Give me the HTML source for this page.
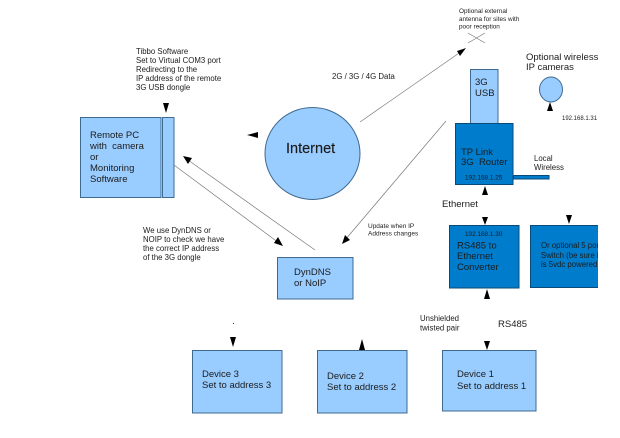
<!DOCTYPE html>
<html><head><meta charset="utf-8"><style>
html,body{margin:0;padding:0;background:#fff;width:620px;height:438px;overflow:hidden}
svg{display:block}
text{font-family:"Liberation Sans",sans-serif;fill:#1c1c1c}
.s{font-size:7.8px}
.m{font-size:9.5px}
.r{fill:#99ccff;stroke:#3f6a8f;stroke-width:1}
.d{fill:#007ccc;stroke:#0a4a78;stroke-width:1}
.l{stroke:#777;stroke-width:.7;fill:none}
.a{fill:#000}
</style></head><body>
<svg width="620" height="438" viewBox="0 0 620 438" xmlns="http://www.w3.org/2000/svg">
<defs><clipPath id="c"><rect x="530" y="225" width="68" height="63"/></clipPath></defs>
<rect width="620" height="438" fill="#fff"/>
<rect class="r" x="80.5" y="117.5" width="80.5" height="80"/>
<rect class="r" x="162.5" y="117.5" width="11.5" height="80"/>
<ellipse class="r" cx="312.5" cy="153.5" rx="47.5" ry="46"/>
<rect class="r" x="470.5" y="69.5" width="27.5" height="54"/>
<rect class="d" x="455.5" y="123.5" width="57.5" height="61"/>
<rect class="d" x="513.5" y="175.5" width="35.5" height="3.5"/>
<rect class="d" x="449.5" y="225.5" width="69.5" height="62.5"/>
<rect x="530" y="225" width="68" height="63" fill="#007ccc"/>
<path d="M598 225.5H530.5V287.5H598" fill="none" stroke="#0a4a78"/>
<rect class="r" x="277.5" y="257.5" width="75.5" height="41.5"/>
<rect class="r" x="192.5" y="350.5" width="89.5" height="62.5"/>
<rect class="r" x="317.5" y="350.5" width="89.5" height="62.5"/>
<rect class="r" x="442.5" y="350.5" width="93.5" height="60.5"/>
<ellipse class="r" cx="551" cy="89.5" rx="11.5" ry="12.5"/>

<path class="l" d="M360 122L462 51M446 121L345 240M188 160L315 250M174 165L279 243M468 43L485 33M468 33L485 43"/>
<path class="a" d="M466 48L457 51L460 56ZM342 244L345 235L350 240ZM183 156L192 158L188 164ZM283 246L274 243L278 237ZM247 135L258 132V138ZM166 113L163 103H169ZM485 186L482 195H488ZM485 225L482 217H488ZM569 224L566 215H572ZM487 289L484 299H490ZM233 347L230 337H236ZM362 339L359 350H365L362 339ZM487 350L484 341H490ZM550 102L547 111H553Z"/>
<rect x="233" y="323" width="1" height="1" fill="#333"/>

<g style="filter:blur(.3px)">
<text class="m" x="90" y="138">Remote PC</text>
<text class="m" x="90" y="149">with&#160; camera</text>
<text class="m" x="90" y="160">or</text>
<text class="m" x="90" y="171">Monitoring</text>
<text class="m" x="90" y="182">Software</text>

<text class="s" x="136" y="54">Tibbo Software</text>
<text class="s" x="136" y="63">Set to Virtual COM3 port</text>
<text class="s" x="136" y="72">Redirecting to the</text>
<text class="s" x="136" y="81">IP address of the remote</text>
<text class="s" x="136" y="90">3G USB dongle</text>

<text class="s" x="143" y="233">We use DynDNS or</text>
<text class="s" x="143" y="242">NOIP to check we have</text>
<text class="s" x="143" y="251">the correct IP address</text>
<text class="s" x="143" y="260">of the 3G dongle</text>

<text class="s" x="332" y="79">2G / 3G / 4G Data</text>
<text x="286" y="153" style="font-size:14.5px;stroke:#1c1c1c;stroke-width:.15">Internet</text>
<text x="368" y="228" style="font-size:6.5px">Update when IP</text>
<text x="368" y="235.5" style="font-size:6.5px">Address changes</text>

<text x="459" y="13" style="font-size:6.4px">Optional external</text>
<text x="459" y="21" style="font-size:6.4px">antenna for sites with</text>
<text x="459" y="28.5" style="font-size:6.4px">poor reception</text>

<text class="m" x="526" y="60">Optional wireless</text>
<text class="m" x="526" y="70">IP cameras</text>
<text x="562" y="120" style="font-size:6px">192.168.1.31</text>

<text class="m" x="475" y="85">3G</text>
<text class="m" x="475" y="96">USB</text>

<text class="m" x="461" y="155">TP Link</text>
<text class="m" x="461" y="165">3G&#160; Router</text>
<text x="465" y="179.5" style="font-size:6.4px">192.168.1.25</text>
<text class="s" x="534" y="161">Local</text>
<text class="s" x="534" y="170">Wireless</text>
<text class="m" x="442" y="207">Ethernet</text>

<text x="465" y="236" style="font-size:6.4px">192.168.1.30</text>
<text class="m" x="457" y="248.5">RS485 to</text>
<text class="m" x="457" y="259">Ethernet</text>
<text class="m" x="457" y="270">Converter</text>

<g clip-path="url(#c)">
<text x="541" y="248" style="font-size:7.8px">Or optional 5 port</text>
<text x="541" y="258" style="font-size:7.8px">Switch (be sure it</text>
<text x="541" y="267" style="font-size:7.8px">is 5vdc powered</text>
</g>

<text class="m" x="294" y="275">DynDNS</text>
<text class="m" x="294" y="286">or NoIP</text>

<text class="s" x="420" y="321">Unshielded</text>
<text class="s" x="420" y="330.5">twisted pair</text>
<text class="m" x="498" y="327">RS485</text>

<text class="m" x="202" y="377">Device 3</text>
<text class="m" x="202" y="388">Set to address 3</text>
<text class="m" x="327" y="379">Device 2</text>
<text class="m" x="327" y="390">Set to address 2</text>
<text class="m" x="457" y="377">Device 1</text>
<text class="m" x="457" y="389">Set to address 1</text>
</g>
</svg>
</body></html>
